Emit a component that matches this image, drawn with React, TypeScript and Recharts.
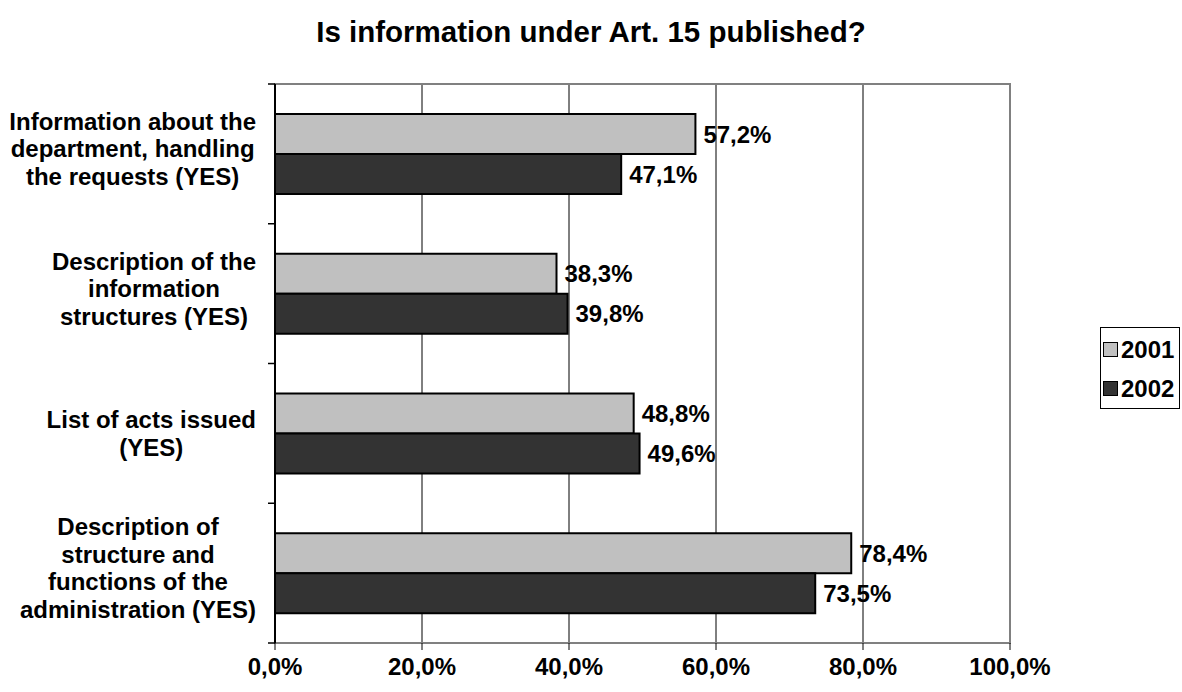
import React from 'react';
import {
  BarChart,
  Bar,
  XAxis,
  YAxis,
  CartesianGrid,
  LabelList,
  ReferenceArea,
} from 'recharts';

// Survey items (top to bottom) and the share answering YES in each year.
const categories: string[] = [
  'Information about the|department, handling|the requests (YES)',
  'Description of the|information|structures (YES)',
  'List of acts issued|(YES)',
  'Description of|structure and|functions of the|administration (YES)',
];
const values2001: number[] = [57.2, 38.3, 48.8, 78.4];
const values2002: number[] = [47.1, 39.8, 49.6, 73.5];
const xTicks: number[] = [0, 20, 40, 60, 80, 100];
const seriesNames: string[] = ['2001', '2002'];
const seriesColors: string[] = ['#c0c0c0', '#333333'];

const data = categories.map((c, i) => ({
  name: c,
  y2001: values2001[i],
  y2002: values2002[i],
}));

const FONT = '"Liberation Sans", Arial, sans-serif';
const LABEL_SIZE = 24;

const pct = (v: number) => v.toFixed(1).replace('.', ',') + '%';

// Measure a label line so that wrapped lines can share one centre.
let measureEl: HTMLSpanElement | null = null;
function textWidth(s: string): number {
  if (typeof document === 'undefined') return s.length * LABEL_SIZE * 0.55;
  if (!measureEl) {
    measureEl = document.createElement('span');
    measureEl.style.cssText = `position:absolute;visibility:hidden;white-space:pre;font-family:${FONT};font-weight:bold;font-size:${LABEL_SIZE}px;`;
    document.body.appendChild(measureEl);
  }
  measureEl.textContent = s;
  return measureEl.getBoundingClientRect().width;
}

// Wrapped category label, plus short tick marks on the band boundaries.
const CategoryTick = (props: any) => {
  const { x, y, payload, index, visibleTicksCount } = props;
  const lines: string[] = String(payload.value).split('|');
  const lh = 27.5;
  const blockW = Math.max(...lines.map(textWidth));
  const right = x - 11;
  const cx = right - blockW / 2;
  const startY = y - ((lines.length - 1) * lh) / 2 - (lines.length === 2 ? 0 : 5);
  const half = typeof payload.offset === 'number' ? payload.offset : 0;
  const axisX = x + 8;
  const last = index === (visibleTicksCount ?? categories.length) - 1;
  return (
    <g>
      {half > 0 && (
        <line x1={axisX - 7} x2={axisX} y1={y - half} y2={y - half} stroke="#000" strokeWidth={1.5} />
      )}
      {half > 0 && last && (
        <line x1={axisX - 7} x2={axisX} y1={y + half} y2={y + half} stroke="#000" strokeWidth={1.5} />
      )}
      <text
        x={cx}
        y={startY}
        textAnchor="middle"
        fontFamily={FONT}
        fontWeight="bold"
        fontSize={LABEL_SIZE}
        fill="#000"
      >
        {lines.map((l, i) => (
          <tspan key={i} x={cx} y={startY + i * lh} dominantBaseline="central">
            {l}
          </tspan>
        ))}
      </text>
    </g>
  );
};

const ValueTick = (props: any) => {
  const { x, y, payload } = props;
  return (
    <text
      x={x}
      y={y + 14}
      textAnchor="middle"
      dominantBaseline="central"
      fontFamily={FONT}
      fontWeight="bold"
      fontSize={LABEL_SIZE}
      fill="#000"
    >
      {pct(payload.value)}
    </text>
  );
};

const LegendBox = () => (
  <div
    style={{
      position: 'absolute',
      left: 1100,
      top: 327,
      border: '1px solid #000',
      background: '#fff',
      width: 80,
      height: 82,
      boxSizing: 'border-box',
      padding: '2px 0 0 2px',
      fontFamily: FONT,
      fontWeight: 'bold',
      fontSize: LABEL_SIZE,
    }}
  >
    {seriesNames.map((n, i) => (
      <div key={n} style={{ display: 'flex', alignItems: 'center', height: 39 }}>
        <span
          style={{
            display: 'inline-block',
            width: 13,
            height: 13,
            border: '1.5px solid #000',
            background: seriesColors[i],
            marginRight: 3,
          }}
        />
        <span>{n}</span>
      </div>
    ))}
  </div>
);

export default function App() {
  return (
    <div style={{ position: 'absolute', left: 0, top: 0, width: 1182, height: 692, background: '#fff' }}>
      <div
        style={{
          position: 'absolute',
          left: 0,
          top: 16,
          width: 1182,
          textAlign: 'center',
          fontFamily: FONT,
          fontWeight: 'bold',
          fontSize: 29.5,
          lineHeight: '32px',
        }}
      >
        Is information under Art. 15 published?
      </div>
      <BarChart
        width={1182}
        height={692}
        data={data}
        layout="vertical"
        margin={{ top: 84, right: 172, bottom: 0, left: 0 }}
        barSize={40}
        barGap={0}
      >
        <CartesianGrid horizontal={false} vertical stroke="#000" strokeWidth={1} />
        <ReferenceArea x1={0} x2={100} fill="none" stroke="#808080" strokeWidth={2} ifOverflow="visible" />
        <XAxis
          type="number"
          domain={[0, 100]}
          ticks={xTicks}
          interval={0}
          height={49}
          axisLine={{ stroke: '#808080', strokeWidth: 2 }}
          tickLine={{ stroke: '#000' }}
          tickSize={7}
          tick={<ValueTick />}
        />
        <YAxis
          type="category"
          dataKey="name"
          width={275}
          axisLine={{ stroke: '#000', strokeWidth: 2 }}
          tickLine={false}
          tickSize={6}
          tick={<CategoryTick />}
          interval={0}
        />
        <Bar dataKey="y2001" name={seriesNames[0]} fill={seriesColors[0]} stroke="#000" strokeWidth={2} isAnimationActive={false}>
          <LabelList
            dataKey="y2001"
            position="right"
            offset={8}
            formatter={(v: any) => pct(Number(v))}
            style={{ fontFamily: FONT, fontWeight: 'bold', fontSize: LABEL_SIZE, fill: '#000' }}
          />
        </Bar>
        <Bar dataKey="y2002" name={seriesNames[1]} fill={seriesColors[1]} stroke="#000" strokeWidth={2} isAnimationActive={false}>
          <LabelList
            dataKey="y2002"
            position="right"
            offset={8}
            formatter={(v: any) => pct(Number(v))}
            style={{ fontFamily: FONT, fontWeight: 'bold', fontSize: LABEL_SIZE, fill: '#000' }}
          />
        </Bar>
      </BarChart>
      <LegendBox />
    </div>
  );
}
